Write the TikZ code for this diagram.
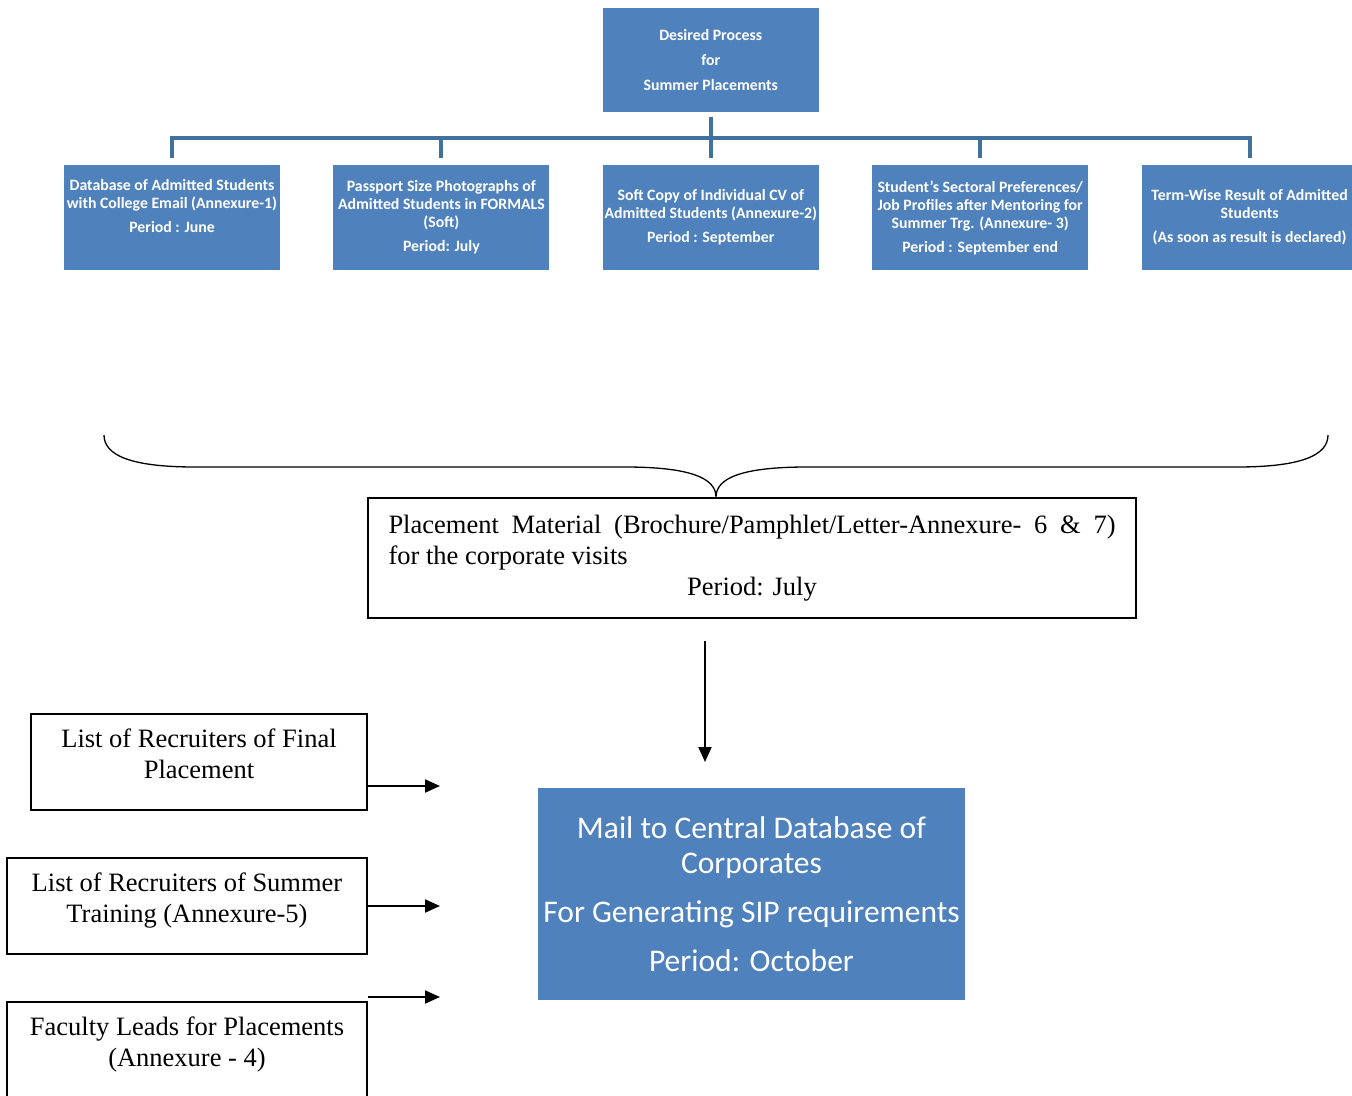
\documentclass[tikz,border=0pt]{standalone}
\usepackage{fontspec}
\setmainfont{Liberation Serif}
\newfontfamily\carlito{Carlito}
\usetikzlibrary{arrows.meta, positioning}
\definecolor{officeblue}{HTML}{4F81BD}
\definecolor{busblue}{HTML}{41719C}

\begin{document}
\begin{tikzpicture}[
    x=1pt, y=-1pt,
    node distance=53pt,
    itembox/.style={rectangle, fill=officeblue, text=white, align=center, inner sep=0pt, minimum width=216pt, minimum height=105pt, font=\carlito\bfseries\fontsize{15.8}{18}\selectfont},
    mailbox/.style={rectangle, fill=officeblue, text=white, align=center, inner sep=0pt, minimum width=427pt, minimum height=212pt, font=\carlito\fontsize{31.5}{35}\selectfont},
    plainbox/.style={rectangle, draw, line width=1.3pt, align=center, inner sep=0pt, minimum height=96pt, font=\fontsize{26.5}{31}\selectfont},
    bus/.style={draw=busblue, line width=4pt, shorten <=5pt, shorten >=7pt},
    arrow/.style={line width=2pt, -{Triangle[length=15pt, width=13pt]}}
]
\useasboundingbox (0,0) rectangle (1352,1095);

% ---------- top chart ----------
\node (item1) [itembox] at (172,217.5) {Database of Admitted Students\\ with College Email (Annexure-1)\\[6pt] Period : June\\[6pt]\mbox{}};
\node (item2) [itembox, right=of item1] {Passport Size Photographs of\\ Admitted Students in FORMALS\\ (Soft)\\[6pt] Period: July};
\node (item3) [itembox, right=of item2] {Soft Copy of Individual CV of\\ Admitted Students (Annexure-2)\\[6pt] Period : September};
\node (item4) [itembox, right=of item3] {Student’s Sectoral Preferences/\\ Job Profiles after Mentoring for\\ Summer Trg. (Annexure- 3)\\[6pt] Period : September end};
\node (item5) [itembox, right=of item4] {Term-Wise Result of Admitted\\ Students\\[6pt] (As soon as result is declared)};
\node (desired) [itembox, above=of item3, minimum height=104pt, font=\carlito\bfseries\fontsize{15.8}{25}\selectfont] {Desired Process\\ for\\ Summer Placements};

% bus lines
\foreach \i in {1,...,5}
  \draw [bus] (desired.south) -- ++(0,26.5) -| (item\i.north);

% ---------- brace and material ----------
\draw [line width=1.3pt] (104,435) .. controls (104,455) and (130,467) .. (195,467) -- (625,467)
  .. controls (690,467) and (716,478) .. (716,497) .. controls (716,478) and (742,467) .. (807,467)
  -- (1237,467) .. controls (1302,467) and (1328,455) .. (1328,435);

\node (material) [rectangle, draw, line width=1.3pt, minimum width=768pt, minimum height=120pt, inner sep=0pt, font=\fontsize{26.5}{31}\selectfont] at (752,558)
  {\parbox{727pt}{Placement Material (Brochure/Pamphlet/Letter-Annexure- 6 \& 7)\linebreak for the corporate visits\par{\centering Period: July\par}}};

% ---------- bottom part ----------
\node (mail) [mailbox] at (751.5,894) {Mail to Central Database of\\ Corporates\\[14pt] For Generating SIP requirements\\[14pt] Period: October};

\node (final) [plainbox, minimum width=336pt] at (199,762) {List of Recruiters of Final\\ Placement\\[-15pt]\mbox{}};
\node (summer) [plainbox, minimum width=360pt] at (187,906) {List of Recruiters of Summer\\ Training (Annexure-5)\\[-15pt]\mbox{}};
\node (faculty) [plainbox, minimum width=360pt] at (187,1050) {Faculty Leads for Placements\\ (Annexure - 4)\\[-15pt]\mbox{}};

% arrow ends
\coordinate (finalend) at (440,786);
\coordinate (facultyend) at (440,997);
\coordinate (downstart) at (705,641);
\coordinate (downend) at (705,762);

\draw [arrow] (final.east |- finalend) -- (finalend);
\draw [arrow] (summer.east) -- (summer.east -| finalend);
\draw [arrow] (faculty.east |- facultyend) -- (facultyend);
\draw [arrow] (downstart) -- (downend);

\end{tikzpicture}
\end{document}
